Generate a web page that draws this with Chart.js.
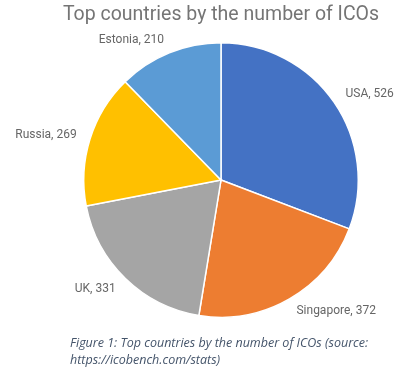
<!DOCTYPE html>
<html>
<head>
<meta charset="utf-8">
<script src="https://cdn.jsdelivr.net/npm/chart.js@4/dist/chart.umd.min.js"></script>
<style>
  html, body { margin: 0; padding: 0; background: #fff; }
  #wrap { position: relative; width: 404px; height: 378px; }
  #caption {
    position: absolute; left: 70px; top: 334px; width: 334px;
    font-family: "Open Sans", sans-serif; font-style: italic; font-size: 12.5px;
    line-height: 17px; color: #44546a; letter-spacing: 0px;
  }
</style>
</head>
<body>
<div id="wrap">
  <canvas id="pie" width="404" height="378"></canvas>
  <div id="caption">Figure 1: Top countries by the number of ICOs (source:<br>https://icobench.com/stats)</div>
</div>
<script>
// =============== Data ===============
const chartTitle = 'Top countries by the number of ICOs';
const countries = ['USA', 'Singapore', 'UK', 'Russia', 'Estonia'];
const icoCounts = [526, 372, 331, 269, 210];
const sliceColors = ['#4472c4', '#ed7d31', '#a5a5a5', '#ffc000', '#5b9bd5'];

// title + labels outside each slice, "Name, value"
const outsideLabels = {
  id: 'outsideLabels',
  afterDatasetsDraw(chart) {
    const ctx = chart.ctx;
    const meta = chart.getDatasetMeta(0);
    const area = chart.chartArea;
    ctx.save();
    ctx.font = '19.5px Roboto, sans-serif';
    ctx.fillStyle = '#757575';
    ctx.textAlign = 'center';
    ctx.textBaseline = 'middle';
    ctx.fillText(chartTitle, (area.left + area.right) / 2, 15);

    ctx.font = '12px Roboto, sans-serif';
    ctx.fillStyle = '#666666';
    meta.data.forEach((arc, i) => {
      const { x, y, startAngle, endAngle, outerRadius } = arc.getProps(['x', 'y', 'startAngle', 'endAngle', 'outerRadius'], true);
      const mid = (startAngle + endAngle) / 2;
      const r = outerRadius + 14;
      const px = x + Math.cos(mid) * r;
      const py = y + Math.sin(mid) * r;
      ctx.textAlign = Math.cos(mid) >= 0 ? 'left' : 'right';
      ctx.fillText(`${countries[i]}, ${icoCounts[i]}`, px, py);
    });
    ctx.restore();
  }
};

new Chart(document.getElementById('pie'), {
  type: 'pie',
  data: {
    labels: countries,
    datasets: [{
      data: icoCounts,
      backgroundColor: sliceColors,
      borderColor: '#ffffff',
      borderWidth: 1.5,
    }],
  },
  options: {
    responsive: false,
    animation: false,
    layout: { padding: { left: 83, right: 45, top: 42, bottom: 60 } },
    plugins: {
      legend: { display: false },
      tooltip: { enabled: false },
      title: { display: false },
    },
  },
  plugins: [outsideLabels],
});
</script>
</body>
</html>
